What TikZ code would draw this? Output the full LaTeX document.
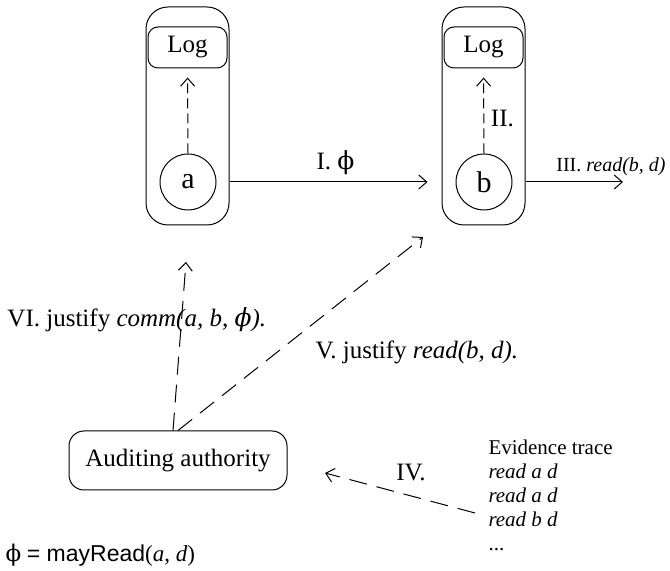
\documentclass[tikz,border=0pt]{standalone}
\usepackage{fontspec}
\setmainfont{Liberation Serif}
\setsansfont{Liberation Sans}
\newfontfamily\phifont{DejaVu Serif}
\usetikzlibrary{arrows.meta}
\newcommand{\phisym}{{\phifont ϕ}}
\tikzstyle{host}     =[rectangle, draw=black, rounded corners=11pt,
                        minimum width=41.5pt, minimum height=109pt]
\tikzstyle{logbox}   =[rectangle, draw=black, rounded corners=5pt,
                        minimum width=39.5pt, minimum height=20.5pt]
\tikzstyle{agent}    =[circle, draw=black, minimum size=28pt, inner sep=0pt,
                        font=\fontsize{15}{18}\selectfont]
\tikzstyle{authority}=[rectangle, draw=black, rounded corners=7.5pt,
                        minimum width=109pt, minimum height=29.5pt]
\tikzstyle{arr}      =[->, line width=0.5pt, >={Straight Barb[length=4pt,width=7pt]}]
\tikzstyle{arrd}     =[arr, dash pattern=on 5pt off 2.5pt]
\tikzstyle{arrl}     =[arr, dash pattern=on 9pt off 5pt]

\begin{document}
\begin{tikzpicture}[x=0.5pt, y=-0.5pt, line width=0.5pt,
                    every node/.style={font=\fontsize{12.5}{15}\selectfont}]
  \useasboundingbox (0,0) rectangle (670,571);

  % ── hosts, logs and agents at explicit coordinates ─────────────────────────
  \node[host]      (hosta) at (187.5, 116)   {};
  \node[host]      (hostb) at (483.5, 116)   {};
  \node[logbox]    (loga)  at (187.5, 47.5)  {Log};
  \node[logbox]    (logb)  at (483.5, 47.5)  {Log};
  \node[agent]     (a)     at (188,   182)   {a};
  \node[agent]     (b)     at (484,   182)   {b};
  \node[authority] (auth)  at (178,   460.5) {Auditing authority};

  % ── logging and communication ──────────────────────────────────────────────
  \draw[arrd, shorten >=4.5pt] (a.north) -- (loga.south);
  \draw[arrd, shorten >=4.5pt] (b.north) -- node[right, pos=0.41]{II.} (logb.south);
  \draw[arr, shorten >=7pt] (a -| hosta.east) -- node[above]{I. \phisym} (b -| hostb.west);

  \coordinate (readend) at (623, 182);
  \draw[arr] (b -| hostb.east) -- (readend);
  \node[font=\fontsize{10}{12}\selectfont] (readlbl) at (611, 167)
    {III. \textit{read(b, d)}};

  % ── audit requests ─────────────────────────────────────────────────────────
  \coordinate (vitip) at (186, 262);
  \coordinate (vtip)  at (423, 237);
  \node[anchor=west, inner sep=0] (vilbl) at (7, 320)
    {VI. justify \textit{comm(a, b, \phisym).}};
  \node[anchor=west, inner sep=0] (vlbl) at (315, 352)
    {V. justify \textit{read(b, d).}};
  \draw[arrl] ([xshift=-2.5pt]auth.north) -- (vitip);
  \draw[arrl] (auth.north) -- (vtip);

  % ── evidence trace ─────────────────────────────────────────────────────────
  \node[anchor=north west, inner sep=0, align=left,
        font=\fontsize{10.5}{12}\selectfont] (evidence) at (488, 439)
    {Evidence trace\\\textit{read a d}\\\textit{read a d}\\\textit{read b d}\\...};
  \coordinate (trace) at (475, 513);
  \coordinate (ivtip) at (325, 473);
  \draw[arrl] (trace) -- (ivtip);
  \node (ivlbl) at (411, 473) {IV.};

  \node[anchor=west, inner sep=0, font=\fontsize{11.5}{14}\selectfont] (phidef) at (5, 555)
    {\phisym{} \textsf{= mayRead}(\textit{a}, \textit{d})};

\end{tikzpicture}
\end{document}
